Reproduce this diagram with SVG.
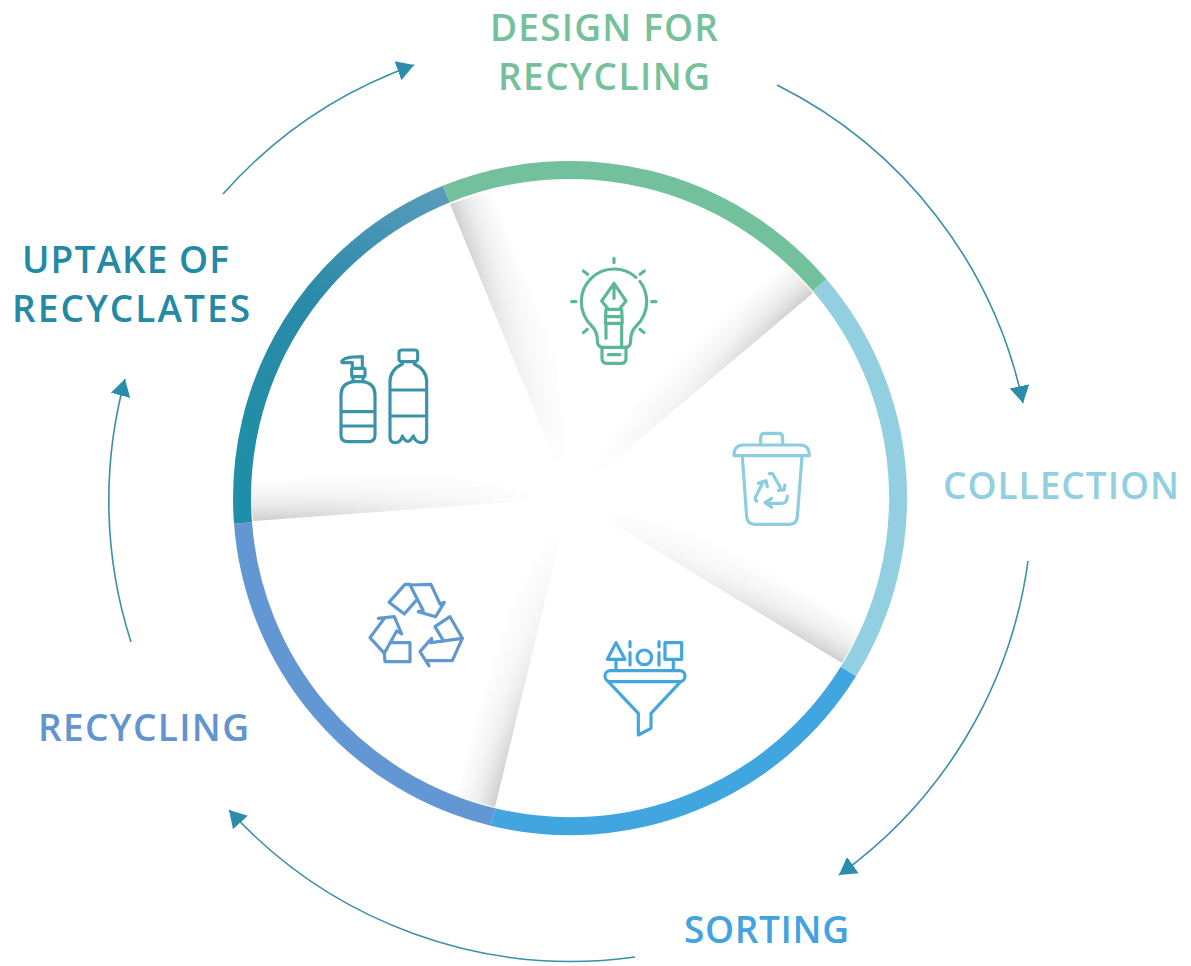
<svg xmlns="http://www.w3.org/2000/svg" width="1191" height="966" viewBox="0 0 1191 966">
<style>
.lbl{font-family:"Open Sans","Noto Sans",sans-serif;font-weight:600;font-size:37px;lengthAdjust:spacing}
.seg{fill:none;stroke-width:18}
.conn{fill:none;stroke:#3a8fa9;stroke-width:1.6}
.ico{fill:none;stroke-width:9.5;stroke-linecap:round;stroke-linejoin:round}
.s0{stop-color:#999;stop-opacity:.5}
.s1{stop-color:#aaa;stop-opacity:.24}
.s2{stop-color:#bbb;stop-opacity:0}
</style>
<defs>
<marker id="ah" markerUnits="userSpaceOnUse" markerWidth="18" markerHeight="22" refX="17" refY="11" orient="auto">
<path d="M0 1L17 11L0 21Z" fill="#2a8eaa"/>
</marker>
<linearGradient id="tealseg" gradientUnits="userSpaceOnUse" x1="243" y1="523" x2="446" y2="194">
<stop offset="0" stop-color="#1f8fa8"/><stop offset=".6" stop-color="#2a8ba8"/><stop offset="1" stop-color="#5a9bbb"/>
</linearGradient>
<radialGradient id="fade" gradientUnits="userSpaceOnUse" cx="570" cy="498" r="328">
<stop offset=".1" stop-color="#000"/><stop offset=".5" stop-color="#555"/><stop offset=".8" stop-color="#ccc"/><stop offset="1" stop-color="#fff"/>
</radialGradient>
<mask id="fm" maskUnits="userSpaceOnUse" x="230" y="150" width="690" height="700"><rect x="230" y="150" width="690" height="700" fill="url(#fade)"/></mask>
<linearGradient id="s1" gradientUnits="userSpaceOnUse" x1="450" y1="204" x2="491" y2="187"><stop offset="0" class="s0"/><stop offset=".4" class="s1"/><stop offset="1" class="s2"/></linearGradient>
<linearGradient id="s2" gradientUnits="userSpaceOnUse" x1="813" y1="293" x2="786" y2="261"><stop offset="0" class="s0"/><stop offset=".4" class="s1"/><stop offset="1" class="s2"/></linearGradient>
<linearGradient id="s3" gradientUnits="userSpaceOnUse" x1="842" y1="663" x2="864" y2="627"><stop offset="0" class="s0"/><stop offset=".4" class="s1"/><stop offset="1" class="s2"/></linearGradient>
<linearGradient id="s4" gradientUnits="userSpaceOnUse" x1="495" y1="807" x2="455" y2="797"><stop offset="0" class="s0"/><stop offset=".4" class="s1"/><stop offset="1" class="s2"/></linearGradient>
<linearGradient id="s5" gradientUnits="userSpaceOnUse" x1="253" y1="521" x2="250" y2="480"><stop offset="0" class="s0"/><stop offset=".4" class="s1"/><stop offset="1" class="s2"/></linearGradient>
</defs>
<rect width="1191" height="966" fill="#fff"/>
<g id="shadows" mask="url(#fm)">
<path d="M570 498L450 204L540 175Z" fill="url(#s1)"/>
<path d="M570 498L813 293L760 235Z" fill="url(#s2)"/>
<path d="M570 498L842 663L885 590Z" fill="url(#s3)"/>
<path d="M570 498L495 807L410 785Z" fill="url(#s4)"/>
<path d="M570 498L253 521L245 440Z" fill="url(#s5)"/>
</g>
<g id="ring">
<path class="seg" stroke="#72c19c" d="M446.2 194.2A328 328 0 0 1 819.7 285.2"/>
<path class="seg" stroke="#92d0e1" d="M819.7 285.2A328 328 0 0 1 848.4 671.6"/>
<path class="seg" stroke="#41a6e0" d="M848.4 671.6A328 328 0 0 1 493 817"/>
<path class="seg" stroke="#6297d3" d="M493 817A328 328 0 0 1 243 523"/>
<path class="seg" stroke="url(#tealseg)" d="M243 523A328 328 0 0 1 446.2 194.2"/>
</g>
<g id="connectors">
<path class="conn" marker-end="url(#ah)" d="M777 85A463 463 0 0 1 1023 403"/>
<path class="conn" marker-end="url(#ah)" d="M1028 561A463 463 0 0 1 839 875"/>
<path class="conn" marker-end="url(#ah)" d="M635 957A463 463 0 0 1 229 810"/>
<path class="conn" marker-end="url(#ah)" d="M131 642A463 463 0 0 1 125 379"/>
<path class="conn" marker-end="url(#ah)" d="M223 194A463 463 0 0 1 414 65"/>
</g>
<g id="node-design">
<text class="lbl" fill="#76c19c" x="490" y="41" textLength="228">DESIGN FOR</text>
<text class="lbl" fill="#76c19c" x="498" y="90" textLength="212">RECYCLING</text>
<g class="ico" stroke="#5bb894" transform="translate(540 240) scale(.3333)">
<path d="M288 112C270 95 245 87 222 87C168 87 124 131 124 185C124 215 137 240 155 258C168 270 172 285 172 302Q172 322 190 322L255 322Q272 322 272 302C272 285 276 270 289 258C307 240 320 215 320 185C320 160 312 140 300 124"/>
<path d="M186 322L186 355Q186 370 200 370L245 370Q258 370 258 355L258 322M205 344L240 344"/>
<path d="M222 130L185 183L205 208L238 208L258 183ZM222 130L222 175M198 208L196 250L247 250L245 208M196 230L247 230M198 250L198 295M245 250L245 320"/>
<path d="M222 55L222 68M130 93L143 103M313 93L300 103M95 185L108 185M335 185L348 185M130 278L142 268M312 278L300 268"/>
</g>
</g>
<g id="node-collection">
<text class="lbl" fill="#92d0e1" x="943" y="499" textLength="236">COLLECTION</text>
<g class="ico" stroke="#8dcde0" transform="translate(710 415) scale(.3333)">
<path d="M152 88L152 68Q152 55 165 55L205 55Q218 55 218 68L218 88"/>
<path d="M72 122Q72 90 100 90L270 90Q298 90 298 122Z"/>
<path d="M97 125L110 305Q112 328 135 328L238 328Q260 328 262 305L276 125"/>
<path d="M178 176L188 176L212 220M225 210L222 225L205 226"/>
<path d="M140 258Q133 255 137 245L160 200M145 205L168 197L172 215"/>
<path d="M232 243Q232 265 215 265L170 265M185 250L165 263L185 277"/>
</g>
</g>
<g id="node-sorting">
<text class="lbl" fill="#42a3df" x="684" y="943" textLength="165">SORTING</text>
<g class="ico" stroke="#45a5dd" transform="translate(590 630) scale(.3333)">
<path d="M52 88L78 38L105 88Z"/>
<path d="M120 35L120 50M120 68L120 105M207 35L207 50M207 68L207 105M78 95L78 118M250 95L250 118"/>
<circle cx="163" cy="82" r="22"/>
<rect x="225" y="38" width="50" height="50"/>
<rect x="45" y="122" width="240" height="33" rx="16"/>
<path d="M55 155L145 250L145 315L183 295L183 250L272 155"/>
</g>
</g>
<g id="node-recycling">
<text class="lbl" fill="#6294cf" x="38" y="741" textLength="211">RECYCLING</text>
<g class="ico" stroke="#6198d0" transform="translate(355 570) scale(.3333)">
<path d="M165 45L228 43L255 102L268 97L242 140L190 125L205 122Z"/>
<path d="M165 43L150 43L102 97L148 132L183 92"/>
<path d="M70 145L118 140L140 192L125 183L88 250L45 203L88 145"/>
<path d="M110 218L165 218L165 275L90 275L88 250"/>
<path d="M322 205L292 272L215 272L222 288L195 245L230 205L228 218Z"/>
<path d="M265 212L240 170L285 140L322 205"/>
</g>
</g>
<g id="node-uptake">
<text class="lbl" fill="#2389a5" x="22" y="273" textLength="207">UPTAKE OF</text>
<text class="lbl" fill="#2389a5" x="12" y="322" textLength="238">RECYCLATES</text>
<g class="ico" stroke="#3b93a8" transform="translate(325 340) scale(.3333)">
<path d="M50 65C55 52 90 50 112 50L112 85M52 68L82 68L82 85"/>
<rect x="80" y="85" width="40" height="25" rx="5"/>
<path d="M84 110L84 125M114 110L114 125"/>
<path d="M48 165Q48 130 85 125L115 125Q150 130 150 165L150 285Q150 305 130 305L68 305Q48 305 48 285ZM48 215L150 215M48 258L150 258"/>
<rect x="222" y="30" width="56" height="35" rx="8"/>
<path d="M232 65L232 72Q195 90 195 125L195 292Q195 308 210 308Q228 308 232 288Q248 320 265 288Q272 308 290 308Q305 308 305 292L305 125Q305 90 268 72L268 65M195 150L305 150M195 228L305 228"/>
</g>
</g>
</svg>
